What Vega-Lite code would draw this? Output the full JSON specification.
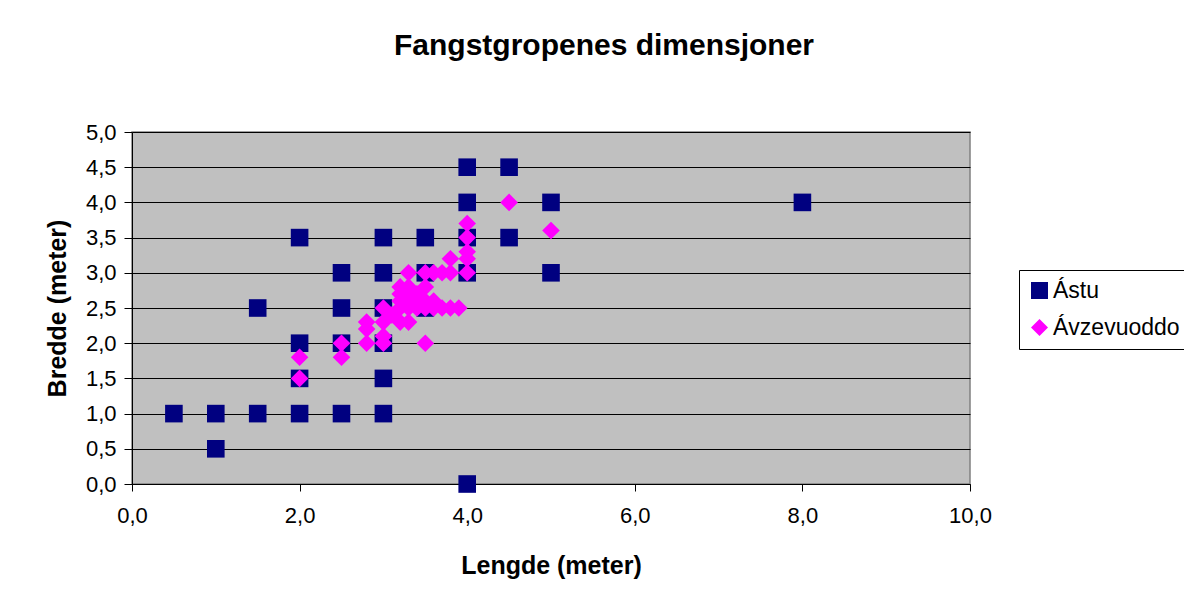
{
  "$schema": "https://vega.github.io/schema/vega-lite/v6.json",
  "width": 838,
  "height": 352,
  "autosize": {"type": "none"},
  "padding": {"left": 132, "top": 132, "right": 214, "bottom": 117},
  "background": "white",
  "config": {
    "locale": {"number": {"decimal": ",", "thousands": ".", "grouping": [3], "currency": ["", ""]}},
    "font": "Liberation Sans",
    "view": {"fill": "#C0C0C0", "stroke": "#808080", "strokeWidth": 1.5}
  },
  "title": {
    "text": "Fangstgropenes dimensjoner",
    "fontSize": 30,
    "fontWeight": "bold",
    "font": "Liberation Sans",
    "color": "black",
    "anchor": "middle",
    "offset": 60,
    "dx": 53
  },
  "data": {
    "values": [
      {"x": 0.5, "y": 1.0, "s": "Ástu"},
      {"x": 1.0, "y": 1.0, "s": "Ástu"},
      {"x": 1.0, "y": 0.5, "s": "Ástu"},
      {"x": 1.5, "y": 1.0, "s": "Ástu"},
      {"x": 1.5, "y": 2.5, "s": "Ástu"},
      {"x": 2.0, "y": 1.0, "s": "Ástu"},
      {"x": 2.0, "y": 1.5, "s": "Ástu"},
      {"x": 2.0, "y": 2.0, "s": "Ástu"},
      {"x": 2.0, "y": 3.5, "s": "Ástu"},
      {"x": 2.5, "y": 1.0, "s": "Ástu"},
      {"x": 2.5, "y": 2.0, "s": "Ástu"},
      {"x": 2.5, "y": 2.5, "s": "Ástu"},
      {"x": 2.5, "y": 3.0, "s": "Ástu"},
      {"x": 3.0, "y": 1.0, "s": "Ástu"},
      {"x": 3.0, "y": 1.5, "s": "Ástu"},
      {"x": 3.0, "y": 2.0, "s": "Ástu"},
      {"x": 3.0, "y": 2.5, "s": "Ástu"},
      {"x": 3.0, "y": 3.0, "s": "Ástu"},
      {"x": 3.0, "y": 3.5, "s": "Ástu"},
      {"x": 3.5, "y": 2.5, "s": "Ástu"},
      {"x": 3.5, "y": 3.0, "s": "Ástu"},
      {"x": 3.5, "y": 3.5, "s": "Ástu"},
      {"x": 4.0, "y": 0.0, "s": "Ástu"},
      {"x": 4.0, "y": 3.0, "s": "Ástu"},
      {"x": 4.0, "y": 3.5, "s": "Ástu"},
      {"x": 4.0, "y": 4.0, "s": "Ástu"},
      {"x": 4.0, "y": 4.5, "s": "Ástu"},
      {"x": 4.5, "y": 3.5, "s": "Ástu"},
      {"x": 4.5, "y": 4.5, "s": "Ástu"},
      {"x": 5.0, "y": 3.0, "s": "Ástu"},
      {"x": 5.0, "y": 4.0, "s": "Ástu"},
      {"x": 8.0, "y": 4.0, "s": "Ástu"},
      {"x": 2.0, "y": 1.5, "s": "Ávzevuoddo"},
      {"x": 2.0, "y": 1.8, "s": "Ávzevuoddo"},
      {"x": 2.5, "y": 1.8, "s": "Ávzevuoddo"},
      {"x": 2.5, "y": 2.0, "s": "Ávzevuoddo"},
      {"x": 2.8, "y": 2.0, "s": "Ávzevuoddo"},
      {"x": 2.8, "y": 2.2, "s": "Ávzevuoddo"},
      {"x": 2.8, "y": 2.3, "s": "Ávzevuoddo"},
      {"x": 3.0, "y": 2.0, "s": "Ávzevuoddo"},
      {"x": 3.0, "y": 2.1, "s": "Ávzevuoddo"},
      {"x": 3.0, "y": 2.3, "s": "Ávzevuoddo"},
      {"x": 3.0, "y": 2.5, "s": "Ávzevuoddo"},
      {"x": 3.1, "y": 2.4, "s": "Ávzevuoddo"},
      {"x": 3.2, "y": 2.3, "s": "Ávzevuoddo"},
      {"x": 3.3, "y": 2.3, "s": "Ávzevuoddo"},
      {"x": 3.2, "y": 2.5, "s": "Ávzevuoddo"},
      {"x": 3.2, "y": 2.6, "s": "Ávzevuoddo"},
      {"x": 3.2, "y": 2.7, "s": "Ávzevuoddo"},
      {"x": 3.2, "y": 2.8, "s": "Ávzevuoddo"},
      {"x": 3.3, "y": 2.5, "s": "Ávzevuoddo"},
      {"x": 3.3, "y": 2.6, "s": "Ávzevuoddo"},
      {"x": 3.3, "y": 2.8, "s": "Ávzevuoddo"},
      {"x": 3.4, "y": 2.5, "s": "Ávzevuoddo"},
      {"x": 3.4, "y": 2.6, "s": "Ávzevuoddo"},
      {"x": 3.4, "y": 2.7, "s": "Ávzevuoddo"},
      {"x": 3.5, "y": 2.5, "s": "Ávzevuoddo"},
      {"x": 3.5, "y": 2.6, "s": "Ávzevuoddo"},
      {"x": 3.5, "y": 2.8, "s": "Ávzevuoddo"},
      {"x": 3.6, "y": 2.5, "s": "Ávzevuoddo"},
      {"x": 3.6, "y": 2.6, "s": "Ávzevuoddo"},
      {"x": 3.7, "y": 2.5, "s": "Ávzevuoddo"},
      {"x": 3.8, "y": 2.5, "s": "Ávzevuoddo"},
      {"x": 3.9, "y": 2.5, "s": "Ávzevuoddo"},
      {"x": 3.5, "y": 2.0, "s": "Ávzevuoddo"},
      {"x": 3.3, "y": 3.0, "s": "Ávzevuoddo"},
      {"x": 3.5, "y": 3.0, "s": "Ávzevuoddo"},
      {"x": 3.6, "y": 3.0, "s": "Ávzevuoddo"},
      {"x": 3.7, "y": 3.0, "s": "Ávzevuoddo"},
      {"x": 3.8, "y": 3.0, "s": "Ávzevuoddo"},
      {"x": 3.8, "y": 3.2, "s": "Ávzevuoddo"},
      {"x": 4.0, "y": 3.0, "s": "Ávzevuoddo"},
      {"x": 4.0, "y": 3.2, "s": "Ávzevuoddo"},
      {"x": 4.0, "y": 3.3, "s": "Ávzevuoddo"},
      {"x": 4.0, "y": 3.5, "s": "Ávzevuoddo"},
      {"x": 4.0, "y": 3.7, "s": "Ávzevuoddo"},
      {"x": 4.5, "y": 4.0, "s": "Ávzevuoddo"},
      {"x": 5.0, "y": 3.6, "s": "Ávzevuoddo"}
    ]
  },
  "mark": {"type": "point", "filled": true, "opacity": 1, "size": 310},
  "encoding": {
    "x": {
      "field": "x",
      "type": "quantitative",
      "scale": {"domain": [0, 10], "nice": false, "zero": false},
      "axis": {
        "values": [0, 2, 4, 6, 8, 10],
        "format": ".1f",
        "grid": false,
        "title": "Lengde (meter)",
        "titleFontSize": 25,
        "titleFontWeight": "bold",
        "titleColor": "black",
        "titlePadding": 27,
        "labelFontSize": 22,
        "labelColor": "black",
        "labelPadding": 14,
        "labelFlush": false,
        "labelOverlap": false,
        "tickSize": 7,
        "tickColor": "black",
        "domainColor": "black"
      }
    },
    "y": {
      "field": "y",
      "type": "quantitative",
      "scale": {"domain": [0, 5], "nice": false, "zero": false},
      "axis": {
        "values": [0, 0.5, 1, 1.5, 2, 2.5, 3, 3.5, 4, 4.5, 5],
        "format": ".1f",
        "grid": true,
        "gridColor": "black",
        "gridOpacity": 1,
        "gridWidth": 1,
        "title": "Bredde (meter)",
        "titleFontSize": 25,
        "titleFontWeight": "bold",
        "titleColor": "black",
        "titlePadding": 15,
        "labelFontSize": 22,
        "labelColor": "black",
        "labelPadding": 8,
        "labelFlush": false,
        "labelOverlap": false,
        "tickSize": 8,
        "tickColor": "black",
        "domainColor": "black"
      }
    },
    "color": {
      "field": "s",
      "type": "nominal",
      "scale": {"domain": ["Ástu", "Ávzevuoddo"], "range": ["#000080", "#FF00FF"]},
      "legend": {
        "title": null,
        "orient": "none",
        "legendX": 887,
        "legendY": 138,
        "fillColor": "white",
        "strokeColor": "black",
        "padding": 9,
        "labelFontSize": 23,
        "labelColor": "black",
        "labelFont": "Liberation Sans",
        "symbolSize": 290,
        "rowPadding": 13,
        "labelOffset": 2
      }
    },
    "shape": {
      "field": "s",
      "type": "nominal",
      "scale": {"domain": ["Ástu", "Ávzevuoddo"], "range": ["square", "diamond"]}
    }
  }
}
